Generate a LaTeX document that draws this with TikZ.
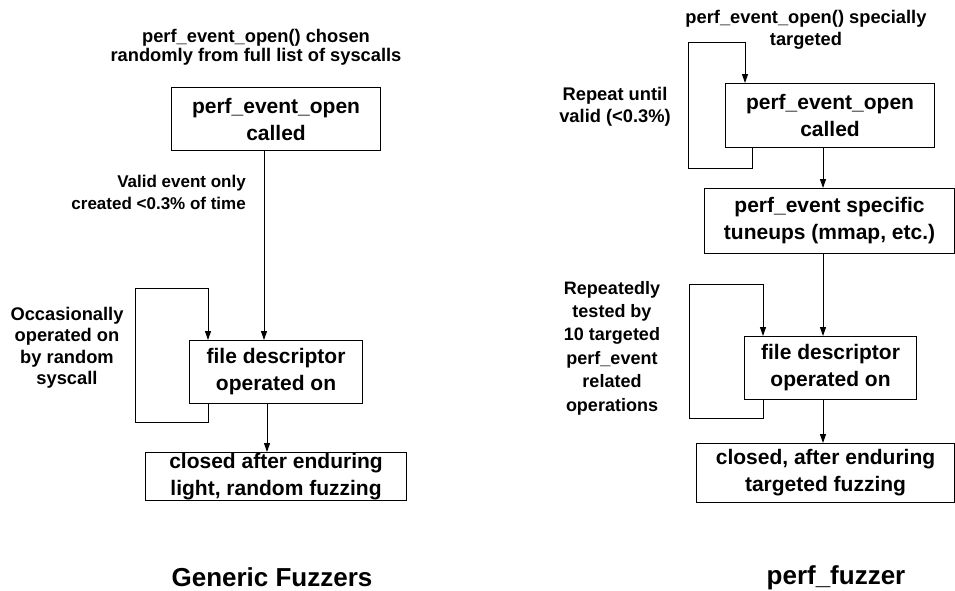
\documentclass[tikz,border=0pt]{standalone}
\usepackage{fontspec}
\setmainfont{Liberation Sans}
\usetikzlibrary{arrows.meta}
\begin{document}
\begin{tikzpicture}[x=1pt,y=-1pt,
  box/.style={draw, line width=1.1pt, inner sep=0pt, anchor=north west, align=center,
    font=\fontsize{21}{27}\selectfont\bfseries},
  lab/.style={inner sep=0pt, align=center, font=\fontsize{18.3}{21.5}\selectfont\bfseries},
  ttl/.style={inner sep=0pt, anchor=base, text depth=0pt, font=\fontsize{26}{30}\selectfont\bfseries},
  arr/.style={line width=1pt, -{Triangle[length=9pt,width=6pt]}}]
\useasboundingbox (0,0) rectangle (955,590);

% ---------- left: Generic Fuzzers ----------
\node[box, minimum width=209pt, minimum height=63pt] (b1) at (171,87) {perf\_event\_open\\called};
\node[box, minimum width=173pt, minimum height=63pt] (b2) at (189,340) {file descriptor\\operated on};
\node[box, minimum width=261pt, minimum height=48pt] (b3) at (145,452) {closed after enduring\\light, random fuzzing};

\node[lab, font=\fontsize{18.3}{19.5}\selectfont\bfseries] (t1) at (256,47.5) {perf\_event\_open() chosen\\randomly from full list of syscalls};
\node[lab, anchor=east, align=right, font=\fontsize{17}{21.5}\selectfont\bfseries] (v1) at (246,192.5) {Valid event only\\created <0.3\% of time};
\node[lab] (o1) at (67,348) {Occasionally\\operated on\\by random\\syscall};
\node[ttl] (g1) at (272,586) {Generic Fuzzers};

\coordinate (la) at (135,422);
\coordinate (lb) at (208,288);
\draw[arr] (264,0 |- b1.south) -- (264,0 |- b2.north);
\draw[arr] (208,0 |- b2.south) |- (la) |- (lb) -- (208,0 |- b2.north);
\draw[arr] (267,0 |- b2.south) -- (267,0 |- b3.north);

% ---------- right: perf_fuzzer ----------
\node[box, minimum width=209pt, minimum height=64pt] (r1) at (725,83) {perf\_event\_open\\called};
\node[box, minimum width=250pt, minimum height=65pt] (r2) at (704,188) {perf\_event specific\\tuneups (mmap, etc.)};
\node[box, minimum width=172pt, minimum height=63pt] (r3) at (744,336) {file descriptor\\operated on};
\node[box, minimum width=258pt, minimum height=59pt] (r4) at (696,443) {closed, after enduring\\targeted fuzzing};

\node[lab] (t2) at (806,30) {perf\_event\_open() specially\\targeted};
\node[lab] (p2) at (615,107) {Repeat until\\valid (<0.3\%)};
\node[lab, font=\fontsize{18}{23.4}\selectfont\bfseries] (q2) at (612,348) {Repeatedly\\tested by\\10 targeted\\perf\_event\\related\\operations};
\node[ttl] (g2) at (836,584) {perf\_fuzzer};

\coordinate (ra) at (688,168);
\coordinate (rb) at (745,42);
\draw[arr] (752,0 |- r1.south) |- (ra) |- (rb) -- (745,0 |- r1.north);
\draw[arr] (823,0 |- r1.south) -- (823,0 |- r2.north);
\draw[arr] (823,0 |- r2.south) -- (823,0 |- r3.north);
\coordinate (rc) at (689,418);
\coordinate (rd) at (763,284);
\draw[arr] (763,0 |- r3.south) |- (rc) |- (rd) -- (763,0 |- r3.north);
\draw[arr] (823,0 |- r3.south) -- (823,0 |- r4.north);
\end{tikzpicture}
\end{document}
